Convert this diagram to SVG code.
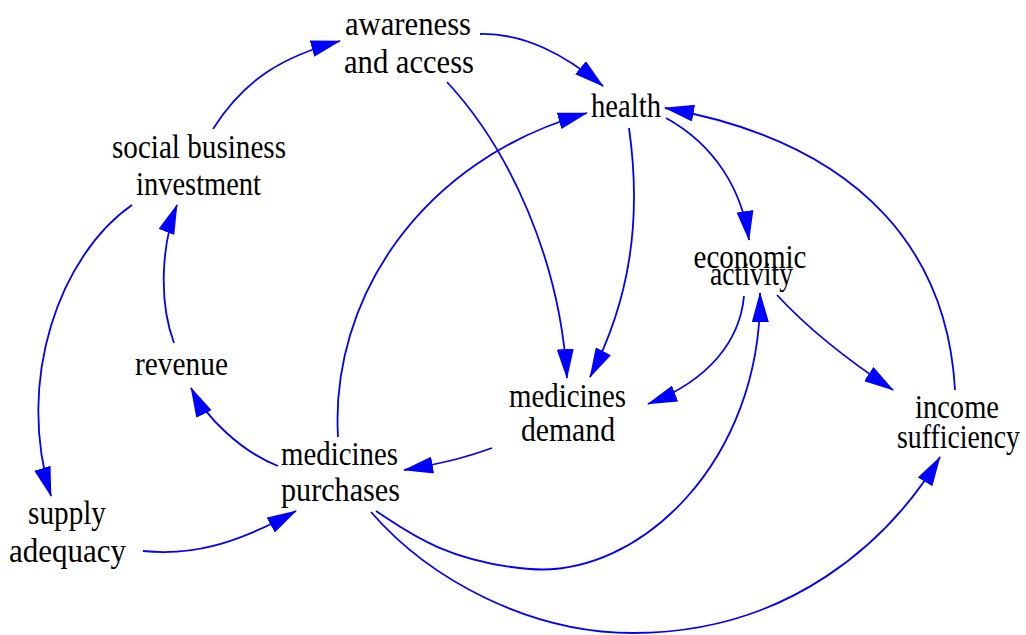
<svg xmlns="http://www.w3.org/2000/svg" width="1026" height="635" viewBox="0 0 1026 635">
<style>
.t{font-size:33px;fill:#000;text-anchor:middle}
.e{fill:none;stroke:#0000ff;stroke-width:1.8;marker-end:url(#ah)}
</style>
<defs>
<marker id="ah" markerUnits="userSpaceOnUse" markerWidth="30" markerHeight="17" refX="29" refY="8.5" orient="auto" viewBox="0 0 30 17">
<path d="M0,0 L30,8.5 L0,17 z" fill="#0000ff"/>
</marker>
</defs>
<rect width="1026" height="635" fill="#fff"/>
<g id="connectors">
<path class="e" d="M213,129 C245,78 285,56 340,41"/>
<path class="e" d="M480,34 C525,33 565,55 603,86"/>
<path class="e" d="M447,82 C510,150 560,260 567,378"/>
<path class="e" d="M338,437 C330,300 420,160 587,113"/>
<path class="e" d="M629,128 C642,220 630,300 590,377"/>
<path class="e" d="M666,118 C715,145 742,190 749,240"/>
<path class="e" d="M955,390 C948,260 870,145 665,108"/>
<path class="e" d="M744,296 C740,340 710,380 648,404"/>
<path class="e" d="M376,511 C405,530 445,562 530,569 C640,578 762,460 760,293"/>
<path class="e" d="M371,512 C430,580 530,633 633,633 C790,633 890,540 940,457"/>
<path class="e" d="M777,295 C800,320 840,355 893,390"/>
<path class="e" d="M492,448 C470,456 450,462 404,470"/>
<path class="e" d="M278,466 C242,452 206,418 191,388"/>
<path class="e" d="M174,343 C158,300 162,243 177,205"/>
<path class="e" d="M132,205 C60,255 15,380 51,496"/>
<path class="e" d="M143,551 C190,556 235,545 296,511"/>
</g>
<g id="nodes" font-family="Liberation Serif, Times New Roman, serif">
<g id="awareness_and_access">
<text class="t" x="408" y="35" textLength="126" lengthAdjust="spacingAndGlyphs">awareness</text>
<text class="t" x="409" y="73" textLength="130" lengthAdjust="spacingAndGlyphs">and access</text>
</g>
<g id="social_business_investment">
<text class="t" x="199" y="158" textLength="174" lengthAdjust="spacingAndGlyphs">social business</text>
<text class="t" x="198.5" y="195" textLength="125" lengthAdjust="spacingAndGlyphs">investment</text>
</g>
<g id="health">
<text class="t" x="626" y="117" textLength="70" lengthAdjust="spacingAndGlyphs">health</text>
</g>
<g id="economic_activity">
<text class="t" x="750" y="268" textLength="113" lengthAdjust="spacingAndGlyphs">economic</text>
<text class="t" x="751.5" y="285" textLength="83" lengthAdjust="spacingAndGlyphs">activity</text>
</g>
<g id="revenue">
<text class="t" x="181.5" y="375" textLength="93" lengthAdjust="spacingAndGlyphs">revenue</text>
</g>
<g id="medicines_purchases">
<text class="t" x="339.5" y="465" textLength="117" lengthAdjust="spacingAndGlyphs">medicines</text>
<text class="t" x="340.5" y="501" textLength="119" lengthAdjust="spacingAndGlyphs">purchases</text>
</g>
<g id="supply_adequacy">
<text class="t" x="67" y="524" textLength="78" lengthAdjust="spacingAndGlyphs">supply</text>
<text class="t" x="67.5" y="562" textLength="117" lengthAdjust="spacingAndGlyphs">adequacy</text>
</g>
<g id="medicines_demand">
<text class="t" x="567.5" y="407" textLength="117" lengthAdjust="spacingAndGlyphs">medicines</text>
<text class="t" x="568" y="441" textLength="94" lengthAdjust="spacingAndGlyphs">demand</text>
</g>
<g id="income_sufficiency">
<text class="t" x="957" y="418" textLength="84" lengthAdjust="spacingAndGlyphs">income</text>
<text class="t" x="958.5" y="448" textLength="123" lengthAdjust="spacingAndGlyphs">sufficiency</text>
</g>
</g>
</svg>
